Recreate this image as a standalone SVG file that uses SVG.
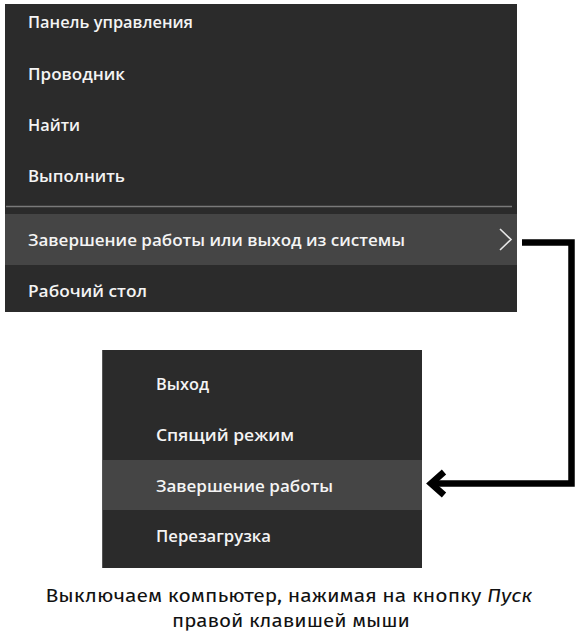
<svg xmlns="http://www.w3.org/2000/svg" width="582" height="639" viewBox="0 0 582 639">
<style>
.panel{fill:#2b2b2b}
.hl{fill:#454545}
.item{font-family:"Open Sans","Noto Sans","DejaVu Sans",sans-serif;font-size:17px;font-weight:600;fill:#f4f4f4}
.cap{font-family:"Fira Sans","Noto Sans","Open Sans",sans-serif;font-size:17.5px;fill:#111}
.conn{fill:none;stroke:#000;stroke-width:6.5}
</style>
<rect width="582" height="639" fill="#fff"/>
<g id="menu-main">
<rect class="panel" x="5" y="4" width="512" height="308"/>
<line x1="6" y1="206.5" x2="512" y2="206.5" stroke="#7a7a7a" stroke-width="1.5"/>
<rect class="hl" x="5" y="214" width="512" height="51"/>
<text class="item" x="28" y="28" textLength="165" lengthAdjust="spacingAndGlyphs">Панель управления</text>
<text class="item" x="28" y="80" textLength="97" lengthAdjust="spacingAndGlyphs">Проводник</text>
<text class="item" x="28" y="131" textLength="52" lengthAdjust="spacingAndGlyphs">Найти</text>
<text class="item" x="28" y="182" textLength="97" lengthAdjust="spacingAndGlyphs">Выполнить</text>
<text class="item" x="28" y="246" textLength="377" lengthAdjust="spacingAndGlyphs">Завершение работы или выход из системы</text>
<polyline points="500,229 511,239.5 500,250" fill="none" stroke="#e6e6e6" stroke-width="1.6"/>
<text class="item" x="28" y="297" textLength="119" lengthAdjust="spacingAndGlyphs">Рабочий стол</text>
</g>
<g id="menu-sub">
<rect class="panel" x="102" y="350" width="320" height="218"/>
<line x1="102.5" y1="350" x2="102.5" y2="568" stroke="#555" stroke-width="1"/>
<rect class="hl" x="103" y="460" width="319" height="50"/>
<text class="item" x="156" y="390" textLength="53" lengthAdjust="spacingAndGlyphs">Выход</text>
<text class="item" x="156" y="441" textLength="138" lengthAdjust="spacingAndGlyphs">Спящий режим</text>
<text class="item" x="156" y="492" textLength="177" lengthAdjust="spacingAndGlyphs">Завершение работы</text>
<text class="item" x="156" y="542" textLength="115" lengthAdjust="spacingAndGlyphs">Перезагрузка</text>
</g>
<g id="connectors">
<path class="conn" d="M522 242.5 H571.5 V483.5 H432"/>
<polyline class="conn" points="444,472 431,483.5 444,495"/>
</g>
<g id="caption">
<text class="cap" x="289" y="602" text-anchor="middle" textLength="487" lengthAdjust="spacingAndGlyphs">Выключаем компьютер, нажимая на кнопку <tspan font-style="italic">Пуск</tspan></text>
<text class="cap" x="291" y="627" text-anchor="middle" textLength="238" lengthAdjust="spacingAndGlyphs">правой клавишей мыши</text>
</g>
</svg>
